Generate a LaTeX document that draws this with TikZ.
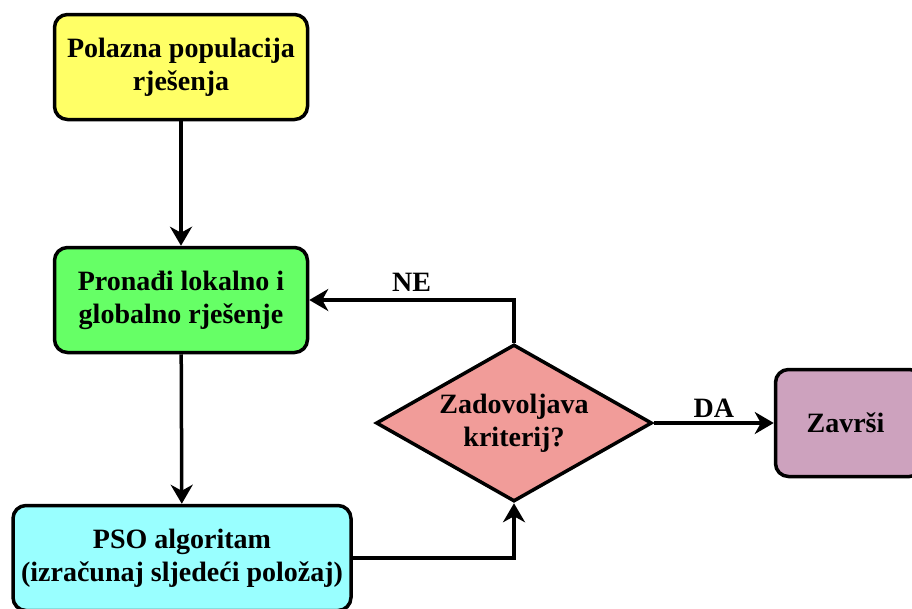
\documentclass[tikz,border=0pt]{standalone}
\usepackage{fontspec}
\setmainfont{Liberation Serif}
\usetikzlibrary{shapes.geometric,arrows.meta}
\definecolor{startcol}{RGB}{255,255,102}
\definecolor{searchcol}{RGB}{102,255,102}
\definecolor{psocol}{RGB}{153,255,255}
\definecolor{checkcol}{RGB}{241,156,153}
\definecolor{donecol}{RGB}{205,162,190}
\begin{document}
\begin{tikzpicture}[x=1pt,y=-1pt,
        txt/.style={font=\bfseries\fontsize{28}{33}\selectfont},
        box/.style={txt,draw,line width=3.5pt,rounded corners=13pt,align=center,minimum width=253pt,minimum height=105pt},
        test/.style={txt,draw,diamond,line width=3.5pt,align=center,inner sep=0pt,aspect=1.76,minimum width=276pt,minimum height=157pt},
        flow/.style={line width=3.5pt,-{Stealth[length=19pt,width=22pt,inset=6pt]}}]
            \useasboundingbox (0,0) rectangle (912,608);

            \node[box,fill=startcol] (start) at (181, 67) { Polazna populacija\\rješenja };
            \node[box,fill=searchcol] (search) at (181, 300) { Pronađi lokalno i\\globalno rješenje };
            \node[box,fill=psocol,minimum width=338pt] (pso) at (182, 558) { PSO algoritam\\(izračunaj sljedeći položaj) };
            \node[test,fill=checkcol] (check) at (514, 423) { Zadovoljava\\kriterij? };
            \node[box,fill=donecol,minimum width=147pt,minimum height=107pt] (done) at (849, 423) { Završi };

            \draw[flow] (start) -- (search);
            \draw[flow] (search) -- (pso);
            \draw[flow] (pso.east) -| (check.south);
            \draw[flow] (check.north) |- node[txt,pos=0.75,anchor=south,yshift=3pt] { NE } (search.east);
            \draw[flow] (check) -- node[txt,anchor=south] { DA } (done);

        \end{tikzpicture}
\end{document}
